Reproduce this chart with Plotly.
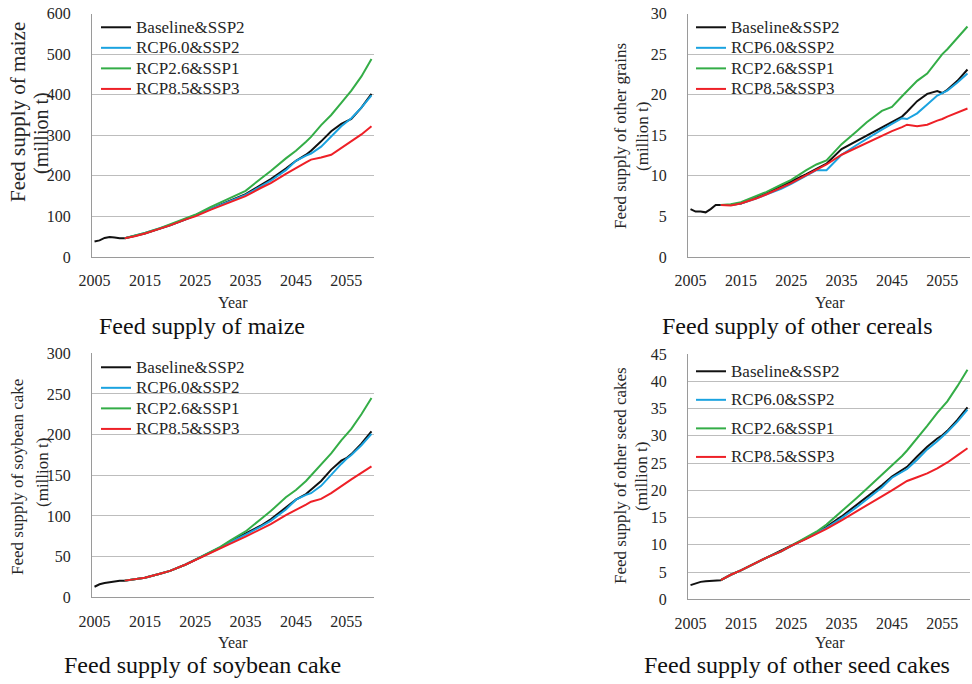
import plotly.graph_objects as go

# ---------------- data ----------------
SCENARIOS = ["Baseline&SSP2", "RCP6.0&SSP2", "RCP2.6&SSP1", "RCP8.5&SSP3"]
COLORS = ["#111111", "#1ba3e0", "#34ad47", "#ee2027"]

HIST_YEARS = [2005, 2006, 2007, 2008, 2009, 2010]
PROJ_YEARS = [2011, 2013, 2015, 2018, 2020, 2023, 2025, 2028, 2030, 2032, 2035, 2038,
              2040, 2043, 2045, 2047, 2048, 2050, 2052, 2054, 2055, 2056, 2058, 2060]

# Feed supply of maize (million t)
maize_hist = [38, 41, 47, 49, 48, 46]
maize_base = [46, 52, 58, 70, 78, 92, 102, 118, 129, 140, 155, 177, 192, 218, 237, 252, 262, 285, 310, 328, 333, 340, 368, 402]
maize_rcp60 = [46, 52, 59, 71, 79, 93, 103, 119, 129, 139, 153, 174, 188, 214, 237, 250, 255, 272, 298, 322, 332, 342, 368, 398]
maize_rcp26 = [46, 52, 59, 71, 80, 94, 104, 123, 134, 145, 163, 193, 212, 243, 262, 284, 296, 325, 350, 380, 395, 410, 445, 488]
maize_rcp85 = [46, 51, 58, 70, 78, 92, 100, 116, 126, 137, 150, 170, 182, 205, 218, 233, 240, 245, 252, 268, 276, 285, 302, 322]

# Feed supply of other grains (million t)
grain_hist = [5.9, 5.6, 5.6, 5.5, 5.9, 6.4]
grain_base = [6.4, 6.45, 6.6, 7.3, 7.9, 8.7, 9.3, 10.2, 10.9, 11.5, 13.3, 14.3, 15.0, 16.0, 16.7, 17.3, 17.9, 19.2, 20.1, 20.45, 20.2, 20.6, 21.7, 23.1]
grain_rcp60 = [6.4, 6.4, 6.6, 7.2, 7.7, 8.4, 9.0, 10.0, 10.7, 10.7, 12.6, 13.8, 14.6, 15.7, 16.4, 17.1, 17.0, 17.7, 18.8, 19.9, 20.2, 20.5, 21.5, 22.6]
grain_rcp26 = [6.4, 6.5, 6.75, 7.5, 8.0, 8.9, 9.5, 10.7, 11.4, 11.9, 13.9, 15.5, 16.6, 18.0, 18.5, 19.8, 20.4, 21.7, 22.6, 24.2, 25.0, 25.6, 27.0, 28.4]
grain_rcp85 = [6.4, 6.35, 6.6, 7.2, 7.7, 8.5, 9.1, 10.1, 10.8, 11.4, 12.6, 13.5, 14.1, 15.0, 15.5, 16.0, 16.3, 16.1, 16.3, 16.8, 17.0, 17.3, 17.8, 18.3]

# Feed supply of soybean cake (million t)
soy_hist = [13, 16, 17.5, 18.5, 19.3, 20.2]
soy_base = [20.5, 22, 24, 29, 32.5, 40, 46, 55, 61, 69, 78, 88, 96, 110, 120, 127, 132, 143, 157, 168, 171, 176, 189, 204]
soy_rcp60 = [20.5, 22, 24, 29, 32.5, 40, 46, 55, 61, 68, 77, 87, 94, 108, 120, 126, 128, 137, 151, 164, 170, 175, 187, 201]
soy_rcp26 = [20.5, 22, 24, 29, 32.5, 40, 46, 56, 62, 70, 81, 96, 106, 123, 132, 143, 150, 163, 177, 193, 200, 207, 225, 245]
soy_rcp85 = [20.5, 22, 24, 29, 32.5, 40, 46, 54, 60, 66, 74.5, 84, 90, 101, 107, 114, 117.5, 121, 128, 137, 141, 145, 153, 161]

# Feed supply of other seed cakes (million t)
seed_hist = [2.6, 2.9, 3.2, 3.3, 3.4, 3.5]
seed_base = [3.5, 4.5, 5.3, 6.7, 7.6, 8.8, 9.8, 11.2, 12.2, 13.3, 15.2, 17.3, 18.7, 20.9, 22.5, 23.6, 24.3, 26.2, 28.0, 29.5, 30.1, 30.9, 32.9, 35.2]
seed_rcp60 = [3.5, 4.5, 5.3, 6.7, 7.6, 8.8, 9.8, 11.2, 12.2, 13.1, 14.9, 16.9, 18.3, 20.5, 22.3, 23.3, 23.9, 25.6, 27.5, 29.0, 29.8, 30.7, 32.6, 34.8]
seed_rcp26 = [3.5, 4.5, 5.3, 6.7, 7.6, 8.8, 9.8, 11.3, 12.4, 13.7, 16.1, 18.6, 20.3, 22.9, 24.5, 26.3, 27.3, 29.5, 31.8, 34.2, 35.2, 36.3, 39.1, 42.1]
seed_rcp85 = [3.5, 4.5, 5.3, 6.7, 7.6, 8.8, 9.8, 11.1, 12.0, 12.9, 14.5, 16.1, 17.2, 18.9, 20.0, 21.2, 21.7, 22.4, 23.1, 24.0, 24.5, 25.1, 26.4, 27.7]

YEAR_TICKS = [2005, 2015, 2025, 2035, 2045, 2055]

PANELS = [
    dict(hist=maize_hist, series=[maize_base, maize_rcp60, maize_rcp26, maize_rcp85],
         ymax=600, dtick=100, ytitle=["Feed supply of maize", "(million t)"],
         subtitle="Feed supply of maize"),
    dict(hist=grain_hist, series=[grain_base, grain_rcp60, grain_rcp26, grain_rcp85],
         ymax=30, dtick=5, ytitle=["Feed supply of other grains", "(million t)"],
         subtitle="Feed supply of other cereals"),
    dict(hist=soy_hist, series=[soy_base, soy_rcp60, soy_rcp26, soy_rcp85],
         ymax=300, dtick=50, ytitle=["Feed supply of soybean cake", "(million t)"],
         subtitle="Feed supply of soybean cake"),
    dict(hist=seed_hist, series=[seed_base, seed_rcp60, seed_rcp26, seed_rcp85],
         ymax=45, dtick=5, ytitle=["Feed supply of other seed cakes", "(million t)"],
         subtitle="Feed supply of other seed cakes"),
]

# ---------------- layout helpers ----------------
W, H = 972, 684
FONT = "Liberation Serif"
TXT = "#262626"


def px(x):
    return x / W


def py(y):
    return 1 - y / H


# plot-area rectangles in pixels (left, right, top, bottom)
RECTS = [(92, 374, 13.5, 257), (688, 970, 13.5, 257),
         (92, 374, 353.3, 597.3), (688, 970, 354, 599.3)]
YTITLE_POS = [((18, 112, 21), (42, 133, 20)), ((620, 136, 17), (642, 137, 17)),
              ((18, 477, 17), (42, 473, 17)), ((620, 476, 17), (642, 477, 17))]
YEAR_POS = [(233, 302), (830, 302), (233, 642), (830, 642)]
SUB_POS = [(202, 326), (797, 326), (202, 665), (797, 665)]
LEG_POS = [(96, 12, 0), (691, 12, 0), (96, 352, 0), (691, 356, 8)]

fig = go.Figure()
layout = dict(width=W, height=H, margin=dict(l=0, r=0, t=0, b=0, autoexpand=False),
              paper_bgcolor="white", plot_bgcolor="white", showlegend=True,
              font=dict(family=FONT, color=TXT))
annotations = []

for i, p in enumerate(PANELS):
    n = i + 1
    xa = "x" if n == 1 else f"x{n}"
    ya = "y" if n == 1 else f"y{n}"
    leg = "legend" if n == 1 else f"legend{n}"
    for k, (name, col, vals) in enumerate(zip(SCENARIOS, COLORS, p["series"])):
        if k == 0:
            xs = HIST_YEARS + PROJ_YEARS
            ys = p["hist"] + vals
        else:
            xs = PROJ_YEARS
            ys = vals
        fig.add_trace(go.Scatter(x=xs, y=ys, mode="lines",
                                 name=f'<span style="font-size:17px">{name}</span>',
                                 line=dict(color=col, width=2),
                                 xaxis=xa, yaxis=ya, legend=leg,
                                 legendgroup=f"{n}-{k}"))
    l, r, t, b = RECTS[i]
    layout[("xaxis" if n == 1 else f"xaxis{n}")] = dict(
        domain=[px(l), px(r)], anchor=ya, range=[2004.5, 2060.5], automargin=False,
        tickvals=YEAR_TICKS, ticks="outside", ticklen=9, tickcolor="rgba(0,0,0,0)",
        showgrid=False, zeroline=False,
        showline=True, linecolor="#9a9a9a", linewidth=1,
        tickfont=dict(size=16, family=FONT, color=TXT))
    layout[("yaxis" if n == 1 else f"yaxis{n}")] = dict(
        domain=[py(b), py(t)], anchor=xa, range=[0, p["ymax"]], dtick=p["dtick"],
        automargin=False,
        ticks="outside", ticklen=17, tickcolor="rgba(0,0,0,0)",
        showgrid=True, gridcolor="#bdbdbd", gridwidth=1, zeroline=False,
        showline=True, linecolor="#9a9a9a", linewidth=1,
        tickfont=dict(size=16, family=FONT, color=TXT))
    lx, ly, gap = LEG_POS[i]
    layout[leg] = dict(x=px(lx), y=py(ly), xanchor="left", yanchor="top",
                       bgcolor="rgba(0,0,0,0)", borderwidth=0,
                       font=dict(size=13.5, family=FONT, color=TXT),
                       tracegroupgap=gap, itemclick=False)
    for (tx, ty, fs), text in zip(YTITLE_POS[i], p["ytitle"]):
        annotations.append(dict(x=px(tx), y=py(ty), xref="paper", yref="paper",
                                text=text, textangle=-90, showarrow=False,
                                xanchor="center", yanchor="middle",
                                font=dict(size=fs, family=FONT, color=TXT)))
    yx, yy = YEAR_POS[i]
    annotations.append(dict(x=px(yx), y=py(yy), xref="paper", yref="paper",
                            text="Year", showarrow=False, xanchor="center",
                            yanchor="middle", font=dict(size=16, family=FONT, color=TXT)))
    sx, sy = SUB_POS[i]
    annotations.append(dict(x=px(sx), y=py(sy), xref="paper", yref="paper",
                            text=p["subtitle"], showarrow=False, xanchor="center",
                            yanchor="middle", font=dict(size=24, family=FONT, color="#111111")))

layout["annotations"] = annotations
fig.update_layout(**layout)
fig.write_html("out.html", config={"responsive": False, "displayModeBar": False},
               post_script="document.body.style.margin='0';document.body.style.overflow='hidden';")
